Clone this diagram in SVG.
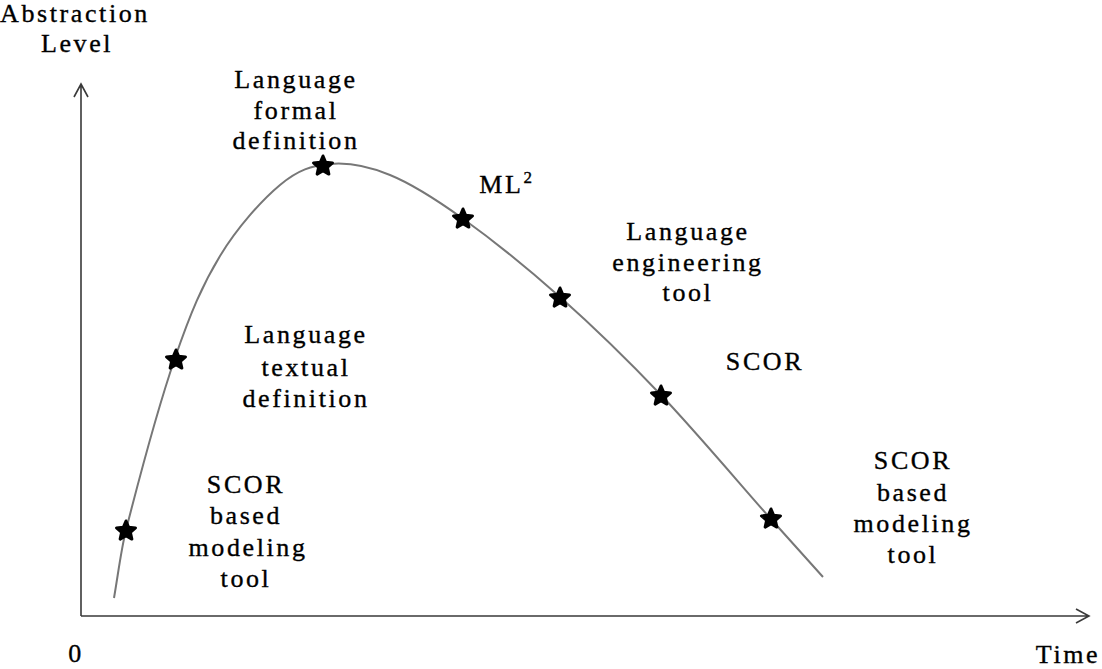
<svg xmlns="http://www.w3.org/2000/svg" width="1102" height="669" viewBox="0 0 1102 669">
  <style>
    .lbl { font-family: "Liberation Serif", "DejaVu Serif", "Times New Roman", serif; font-size: 26px; letter-spacing: 2.6px; fill: #000; stroke: #000; stroke-width: 0.35; text-anchor: middle; }
    .axis { fill: none; stroke: #3a3a3a; stroke-width: 1.6; }
    .curve { fill: none; stroke: #777; stroke-width: 2; }
    .star { fill: #000; stroke: #000; stroke-width: 3; stroke-linejoin: round; }
  </style>
  <defs>
    <path id="star" class="star" d="M0,-10 L2.70,-3.72 L9.51,-3.09 L4.37,1.42 L5.88,8.09 L0,4.6 L-5.88,8.09 L-4.37,1.42 L-9.51,-3.09 L-2.70,-3.72 Z"/>
  </defs>
  <rect width="1102" height="669" fill="#fff"/>

  <!-- axes -->
  <g id="axes">
    <path class="axis" d="M81,616 V84 M74,97 L81,84 L88,97"/>
    <path class="axis" d="M81,616 H1089 M1076,609 L1089,616 L1076,623"/>
    <text class="lbl" x="75" y="22">Abstraction</text>
    <text class="lbl" x="77" y="52">Level</text>
    <text class="lbl" x="76" y="662">0</text>
    <text class="lbl" x="1068" y="663">Time</text>
  </g>

  <!-- abstraction curve -->
  <g id="connectors">
    <path class="curve" d="M114,598 C118,575 121,550 126,530 C136.2,490 159.3,403.7 175,358 C190.7,312.3 202.5,284.8 220,256 C237.5,227.2 261.7,200.3 280,185 C298.3,169.7 311.7,165.7 330,164 C348.3,162.3 368,166 390,175 C412,184 433.7,197.7 462,218 C490.3,238.3 526.8,267.5 560,297 C593.2,326.5 626,358.2 661,395 C696,431.8 743,487.7 770,518 C797,548.3 814.2,567.2 823,577"/>
  </g>

  <!-- milestones on the curve -->
  <g id="node-scor-tool-start">
    <use href="#star" x="126" y="531"/>
    <text class="lbl" x="246" y="493">SCOR</text>
    <text class="lbl" x="246" y="524">based</text>
    <text class="lbl" x="248" y="556">modeling</text>
    <text class="lbl" x="246" y="587">tool</text>
  </g>
  <g id="node-textual-definition">
    <use href="#star" x="176" y="360"/>
    <text class="lbl" x="306" y="343">Language</text>
    <text class="lbl" x="306" y="376">textual</text>
    <text class="lbl" x="306" y="407">definition</text>
  </g>
  <g id="node-formal-definition">
    <use href="#star" x="323" y="166"/>
    <text class="lbl" x="296" y="88">Language</text>
    <text class="lbl" x="296" y="119">formal</text>
    <text class="lbl" x="296" y="149">definition</text>
  </g>
  <g id="node-ml2">
    <use href="#star" x="463" y="219"/>
    <text class="lbl" x="507" y="193">ML<tspan font-size="17" dy="-10">2</tspan></text>
  </g>
  <g id="node-engineering-tool">
    <use href="#star" x="560" y="298"/>
    <text class="lbl" x="688" y="240">Language</text>
    <text class="lbl" x="688" y="271">engineering</text>
    <text class="lbl" x="688" y="301">tool</text>
  </g>
  <g id="node-scor">
    <use href="#star" x="661" y="396"/>
    <text class="lbl" x="765" y="370">SCOR</text>
  </g>
  <g id="node-scor-tool-end">
    <use href="#star" x="771" y="519"/>
    <text class="lbl" x="913" y="469">SCOR</text>
    <text class="lbl" x="913" y="501">based</text>
    <text class="lbl" x="913" y="532">modeling</text>
    <text class="lbl" x="913" y="563">tool</text>
  </g>
</svg>
